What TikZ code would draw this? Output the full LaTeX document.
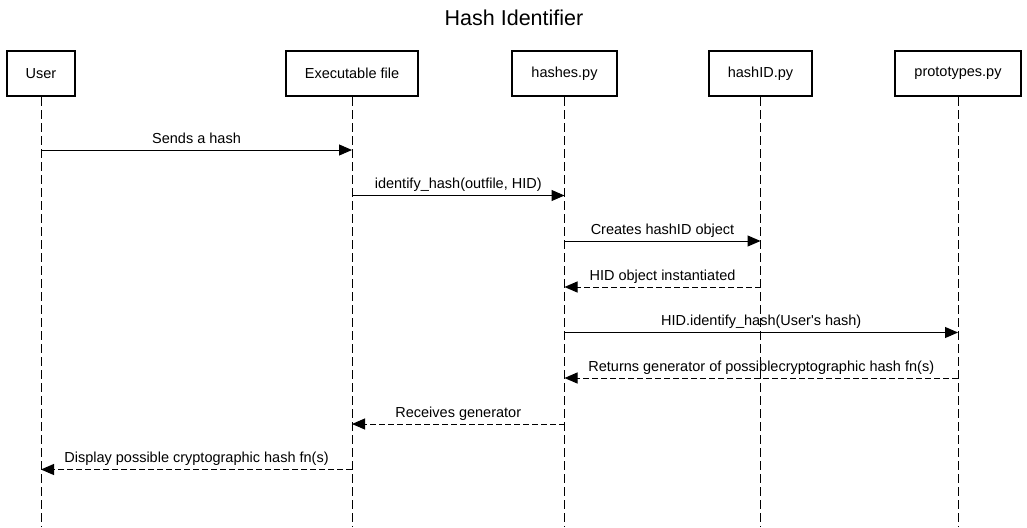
\documentclass[tikz,border=0pt]{standalone}
\usepackage{fontspec}
\setmainfont{Liberation Sans}
\usetikzlibrary{arrows.meta}

\begin{document}
\begin{tikzpicture}[x=1pt,y=-1pt,>={Triangle[length=13pt,width=11pt]},
  every node/.style={font=\fontsize{14.5}{17}\selectfont},
  actor/.style={draw,line width=2.2pt,minimum height=45pt,inner sep=0pt},
  life/.style={line width=1pt,dash pattern=on 9pt off 4pt},
  call/.style={->,line width=1pt},
  reply/.style={->,line width=1pt,dash pattern=on 6pt off 3pt},
  msg/.style={above,text height=10.5pt,text depth=3pt,inner sep=3.5pt}]
  \useasboundingbox (0,0) rectangle (1027,527);
  \node (title) at (514,18) {\fontsize{21.5}{24}\selectfont Hash Identifier};
  \node[actor,minimum width=68pt]  (user)   at (41,73.5)  {User};
  \node[actor,minimum width=132pt] (exec)   at (352,73.5) {Executable file};
  \node[actor,minimum width=105pt] (hashes) at (564.5,73.5) {hashes.py};
  \node[actor,minimum width=103pt] (hashid) at (760.5,73.5) {hashID.py};
  \node[actor,minimum width=126pt] (proto)  at (958,73.5) {prototypes.py};
  \coordinate (bottom) at (0,527);
  \draw[life] (user) -- (user |- bottom);
  \draw[life] (exec) -- (exec |- bottom);
  \draw[life] (hashes) -- (hashes |- bottom);
  \draw[life] (hashid) -- (hashid |- bottom);
  \draw[life] (proto) -- (proto |- bottom);
  \coordinate (m1) at (0,150);
  \coordinate (m2) at (0,195.5);
  \coordinate (m3) at (0,241);
  \coordinate (m4) at (0,287);
  \coordinate (m5) at (0,332.5);
  \coordinate (m6) at (0,378);
  \coordinate (m7) at (0,424);
  \coordinate (m8) at (0,469.5);
  \draw[call] (user |- m1) -- node[msg] {Sends a hash} (exec |- m1);
  \draw[call] (exec |- m2) -- node[msg] {identify\_hash(outfile, HID)} (hashes |- m2);
  \draw[call] (hashes |- m3) -- node[msg] {Creates hashID object} (hashid |- m3);
  \draw[reply] (hashid |- m4) -- node[msg] {HID object instantiated} (hashes |- m4);
  \draw[call] (hashes |- m5) -- node[msg] {HID.identify\_hash(User\textquotesingle s hash)} (proto |- m5);
  \draw[reply] (proto |- m6) -- node[msg] {Returns generator of possiblecryptographic hash fn(s)} (hashes |- m6);
  \draw[reply] (hashes |- m7) -- node[msg] {Receives generator} (exec |- m7);
  \draw[reply] (exec |- m8) -- node[msg] {Display possible cryptographic hash fn(s)} (user |- m8);
\end{tikzpicture}
\end{document}
